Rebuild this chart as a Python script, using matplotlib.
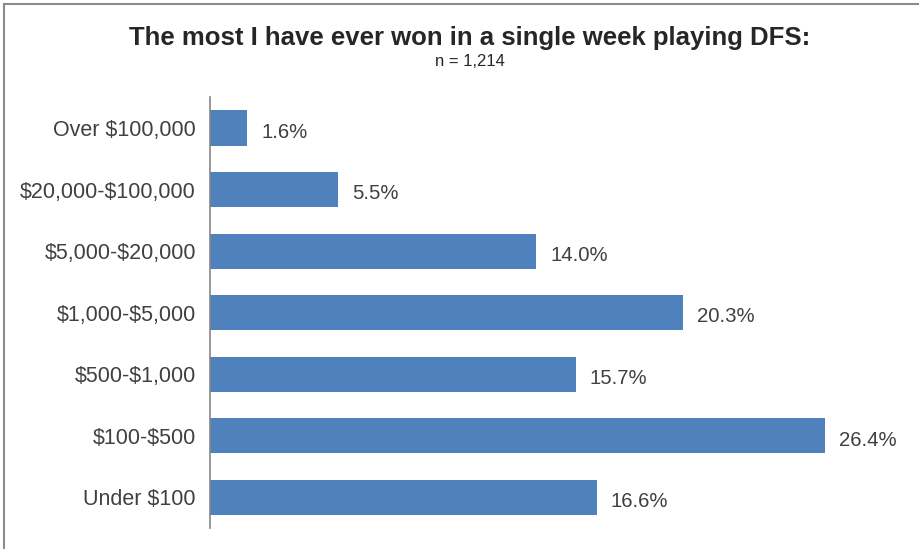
import matplotlib.pyplot as plt
from matplotlib.lines import Line2D

plt.rcParams['font.family'] = ['Liberation Sans', 'DejaVu Sans']
plt.rcParams['text.parse_math'] = False

categories = ['Over $100,000', '$20,000-$100,000', '$5,000-$20,000',
              '$1,000-$5,000', '$500-$1,000', '$100-$500', 'Under $100']
values = [1.6, 5.5, 14.0, 20.3, 15.7, 26.4, 16.6]

bar_color = '#4F81BD'
text_color = '#404040'

fig = plt.figure(figsize=(9.2, 5.49), dpi=100)
ax = fig.add_axes([0.228, 0.038, 0.76, 0.785])

pos = list(range(len(categories)))
ax.barh(pos, values, height=0.57, color=bar_color)
ax.set_ylim(len(categories) - 0.5, -0.5)
ax.set_xlim(0, 30)

for y, v in zip(pos, values):
    ax.text(v + 0.6, y + 0.07, f'{v:.1f}%', va='center', ha='left',
            fontsize=14.7, color=text_color)

ax.set_yticks(pos)
ax.set_yticklabels(categories, fontsize=15.5, color=text_color)
ax.tick_params(axis='y', length=0, pad=10)
ax.set_xticks([])
for side in ['top', 'right', 'bottom']:
    ax.spines[side].set_visible(False)
ax.spines['left'].set_color('#868686')
ax.spines['left'].set_linewidth(1.2)

fig.text(0.511, 0.93, 'The most I have ever won in a single week playing DFS:',
         ha='center', va='center', fontsize=18.5, fontweight='bold', color='#262626')
fig.text(0.511, 0.888, 'n = 1,214', ha='center', va='center', fontsize=12,
         color='#262626')

# thin grey frame along the top and left edges
fig.add_artist(Line2D([0.004, 1.0], [0.993, 0.993], transform=fig.transFigure,
                      color='#8c8c8c', lw=1.5))
fig.add_artist(Line2D([0.004, 0.004], [0.0, 0.993], transform=fig.transFigure,
                      color='#8c8c8c', lw=1.5))

fig.savefig('out.png', dpi=100, facecolor='white')
